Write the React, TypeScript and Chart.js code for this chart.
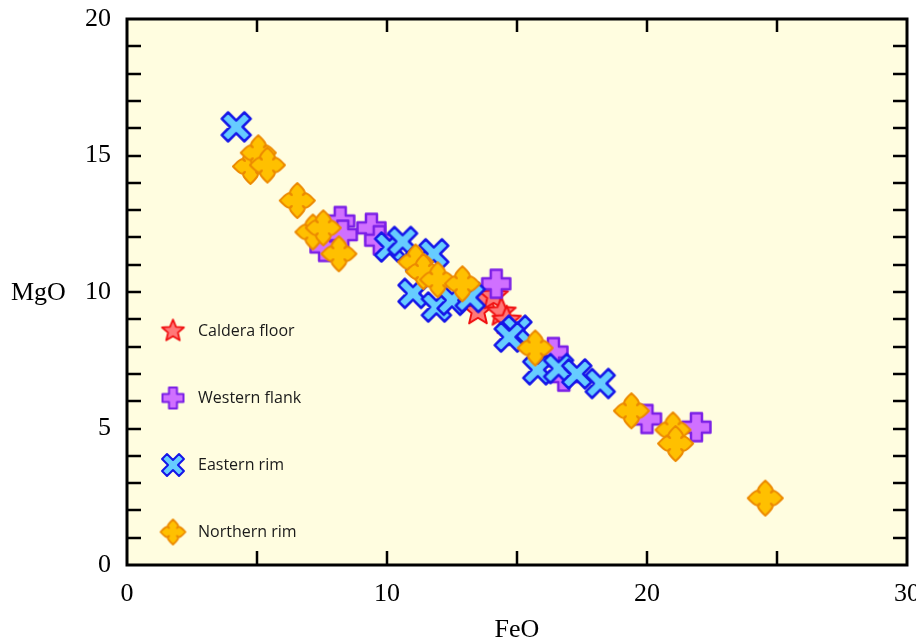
import React, { useEffect, useRef } from 'react';
import { Chart, registerables } from 'chart.js';
Chart.register(...registerables);

const seriesNames = ['Caldera floor', 'Western flank', 'Eastern rim', 'Northern rim'];

const calderaFeO = [13.2, 13.5, 13.8, 14.1, 14.4, 14.6];
const calderaMgO = [9.75, 9.3, 9.75, 9.85, 9.25, 8.95];

const westernFeO = [7.6, 8.2, 8.3, 9.4, 9.7, 14.2, 16.4, 16.8, 20.0, 21.9];
const westernMgO = [11.65, 12.6, 12.1, 12.35, 11.9, 10.3, 7.8, 6.9, 5.35, 5.05];

const easternFeO = [4.2, 10.1, 10.6, 11.3, 11.8, 11.0, 11.9, 12.5, 13.2, 15.0, 14.7, 15.8, 16.6, 17.3, 18.2];
const easternMgO = [16.05, 11.65, 11.85, 11.1, 11.4, 9.95, 9.45, 9.7, 9.8, 8.6, 8.35, 7.15, 7.2, 7.0, 6.65];

const northernFeO = [4.75, 5.05, 5.4, 6.55, 7.15, 7.55, 8.15, 11.1, 11.4, 11.95, 12.9, 15.7, 19.4, 21.0, 21.1, 24.55];
const northernMgO = [14.6, 15.1, 14.65, 13.35, 12.2, 12.35, 11.4, 11.1, 10.75, 10.45, 10.3, 7.95, 5.65, 4.95, 4.45, 2.45];

const xTickLabels = [0, 10, 20, 30];
const yTickLabels = [0, 5, 10, 15, 20];
const xTitle = 'FeO';
const yTitle = 'MgO';

type Draw = (ctx: CanvasRenderingContext2D) => void;

function makeCanvas(size: number, draw: Draw): HTMLCanvasElement {
  const c = document.createElement('canvas');
  c.width = size;
  c.height = size;
  const ctx = c.getContext('2d') as CanvasRenderingContext2D;
  ctx.translate(size / 2, size / 2);
  ctx.lineJoin = 'round';
  draw(ctx);
  return c;
}

function starMarker(R: number, lw: number) {
  return makeCanvas(Math.ceil(R * 2 + lw + 4), (ctx) => {
    ctx.beginPath();
    for (let i = 0; i < 10; i++) {
      const r = i % 2 === 0 ? R : R * 0.45;
      const a = -Math.PI / 2 + (i * Math.PI) / 5;
      const px = r * Math.cos(a);
      const py = r * Math.sin(a);
      if (i === 0) ctx.moveTo(px, py);
      else ctx.lineTo(px, py);
    }
    ctx.closePath();
    ctx.fillStyle = '#ff7878';
    ctx.fill();
    ctx.lineWidth = lw;
    ctx.strokeStyle = '#f01010';
    ctx.stroke();
  });
}

function plusPath(ctx: CanvasRenderingContext2D, h: number, a: number) {
  const pts = [
    [-a, -h], [a, -h], [a, -a], [h, -a], [h, a], [a, a],
    [a, h], [-a, h], [-a, a], [-h, a], [-h, -a], [-a, -a],
  ];
  ctx.beginPath();
  pts.forEach(([px, py], i) => (i === 0 ? ctx.moveTo(px, py) : ctx.lineTo(px, py)));
  ctx.closePath();
}

function plusMarker(h: number, a: number, lw: number) {
  return makeCanvas(Math.ceil(h * 2 + lw + 4), (ctx) => {
    plusPath(ctx, h, a);
    ctx.fillStyle = '#d070ff';
    ctx.fill();
    ctx.lineWidth = lw;
    ctx.strokeStyle = '#7b1fe6';
    ctx.stroke();
  });
}

function crossMarker(h: number, a: number, lw: number) {
  const ext = (h + a) / Math.SQRT2;
  return makeCanvas(Math.ceil(ext * 2 + lw + 4), (ctx) => {
    ctx.rotate(Math.PI / 4);
    plusPath(ctx, h, a);
    ctx.fillStyle = '#66ccff';
    ctx.fill();
    ctx.lineWidth = lw;
    ctx.strokeStyle = '#1515e8';
    ctx.stroke();
  });
}

function quatrefoilMarker(R: number, lw: number) {
  const s = R / 17.5;
  return makeCanvas(Math.ceil(R * 2 + lw + 4), (ctx) => {
    ctx.beginPath();
    for (let k = 0; k < 4; k++) {
      const th = (k * Math.PI) / 2;
      const c = Math.cos(th);
      const sn = Math.sin(th);
      const P = (d: number, p: number): [number, number] => [
        (d * c - p * sn) * s,
        (d * sn + p * c) * s,
      ];
      const n0 = P(5.5, -5.5);
      const a1 = P(7, -10.5);
      const a2 = P(13, -5);
      const tip = P(17.5, 0);
      const b1 = P(13, 5);
      const b2 = P(7, 10.5);
      const n1 = P(5.5, 5.5);
      if (k === 0) ctx.moveTo(n0[0], n0[1]);
      else ctx.lineTo(n0[0], n0[1]);
      ctx.bezierCurveTo(a1[0], a1[1], a2[0], a2[1], tip[0], tip[1]);
      ctx.bezierCurveTo(b1[0], b1[1], b2[0], b2[1], n1[0], n1[1]);
    }
    ctx.closePath();
    ctx.fillStyle = '#ffc000';
    ctx.fill();
    ctx.lineWidth = lw;
    ctx.strokeStyle = '#ec8a00';
    ctx.stroke();
  });
}

const toPoints = (xs: number[], ys: number[]) => xs.map((x, i) => ({ x, y: ys[i] }));

const SERIF = '"Liberation Serif", "Times New Roman", serif';

export default function App() {
  const ref = useRef<HTMLCanvasElement | null>(null);

  useEffect(() => {
    if (!ref.current) return;
    const big = [
      starMarker(15, 2),
      plusMarker(14, 5.5, 2.5),
      crossMarker(16, 4.5, 2.5),
      quatrefoilMarker(17.5, 2),
    ];
    const small = [
      starMarker(11.5, 1.8),
      plusMarker(10.5, 4, 2),
      crossMarker(12, 3.5, 2),
      quatrefoilMarker(12.5, 1.8),
    ];
    const xs = [calderaFeO, westernFeO, easternFeO, northernFeO];
    const ys = [calderaMgO, westernMgO, easternMgO, northernMgO];
    const orders = [4, 3, 2, 1];

    const framePlugin = {
      id: 'frame',
      beforeDraw(chart: any) {
        const { ctx, chartArea: a } = chart;
        ctx.save();
        ctx.fillStyle = '#fffde0';
        ctx.fillRect(a.left, a.top, a.right - a.left, a.bottom - a.top);
        ctx.restore();
      },
      afterDraw(chart: any) {
        const { ctx, chartArea: a } = chart;
        const xS = chart.scales.x;
        const yS = chart.scales.y;
        ctx.save();
        ctx.strokeStyle = '#000';
        ctx.lineWidth = 2.5;
        ctx.beginPath();
        xS.ticks.forEach((t: any) => {
          if (t.value <= xS.min || t.value >= xS.max) return;
          const px = Math.round(xS.getPixelForValue(t.value));
          ctx.moveTo(px, a.bottom);
          ctx.lineTo(px, a.bottom - 14);
          ctx.moveTo(px, a.top);
          ctx.lineTo(px, a.top + 13);
        });
        yS.ticks.forEach((t: any) => {
          if (t.value <= yS.min || t.value >= yS.max) return;
          const py = Math.round(yS.getPixelForValue(t.value));
          ctx.moveTo(a.left, py);
          ctx.lineTo(a.left + 14, py);
          ctx.moveTo(a.right, py);
          ctx.lineTo(a.right - 14, py);
        });
        ctx.stroke();
        ctx.lineWidth = 3;
        ctx.strokeRect(a.left, a.top, a.right - a.left, a.bottom - a.top);

        ctx.fillStyle = '#000';
        ctx.font = '26px ' + SERIF;
        ctx.textBaseline = 'middle';
        ctx.textAlign = 'center';
        ctx.fillText(xTitle, (a.left + a.right) / 2, 630);
        ctx.textAlign = 'left';
        ctx.fillText(yTitle, 11, yS.getPixelForValue(10) + 1);

        ctx.font = '16px "Open Sans", sans-serif';
        ctx.fillStyle = '#1a1a1a';
        const legendY = [331, 398, 465, 532];
        seriesNames.forEach((name, i) => {
          const m = small[i];
          const cy = legendY[i];
          ctx.drawImage(m, 173 - m.width / 2, cy - m.height / 2);
          ctx.fillText(name, 198, cy);
        });
        ctx.restore();
      },
    };

    const chart = new Chart(ref.current, {
      type: 'scatter',
      data: {
        datasets: seriesNames.map((name, i) => ({
          label: name,
          data: toPoints(xs[i], ys[i]),
          pointStyle: big[i] as any,
          order: orders[i],
          backgroundColor: 'transparent',
          borderColor: 'transparent',
        })),
      },
      options: {
        animation: false,
        responsive: true,
        maintainAspectRatio: false,
        layout: { padding: { top: 19, right: 9, left: 0, bottom: 0 } },
        plugins: {
          legend: { display: false },
          tooltip: { enabled: false },
        },
        scales: {
          x: {
            type: 'linear',
            min: 0,
            max: 30,
            ticks: {
              stepSize: 5,
              padding: 14,
              color: '#000',
              font: { family: SERIF, size: 26 },
              maxRotation: 0,
              autoSkip: false,
              callback: (v: any) => (xTickLabels.includes(Number(v)) ? String(v) : ''),
            },
            grid: { display: false, drawTicks: false },
            border: { display: false },
            afterFit: (s: any) => {
              s.height = 79;
              s.paddingLeft = 0;
              s.paddingRight = 0;
            },
          },
          y: {
            type: 'linear',
            min: 0,
            max: 20,
            ticks: {
              stepSize: 1,
              padding: 16,
              color: '#000',
              font: { family: SERIF, size: 26 },
              autoSkip: false,
              callback: (v: any) => (yTickLabels.includes(Number(v)) ? String(v) : ''),
            },
            grid: { display: false, drawTicks: false },
            border: { display: false },
            afterFit: (s: any) => {
              s.width = 127;
              s.paddingTop = 0;
              s.paddingBottom = 0;
            },
          },
        },
      },
      plugins: [framePlugin],
    });
    return () => chart.destroy();
  }, []);

  return (
    <div style={{ position: 'fixed', left: 0, top: 0, width: 916, height: 644, background: '#fff' }}>
      <canvas ref={ref} />
    </div>
  );
}
